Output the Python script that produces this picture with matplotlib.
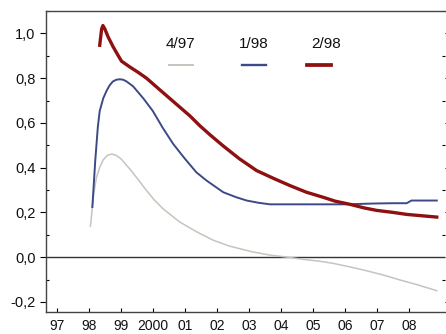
import numpy as np
import matplotlib
matplotlib.use("Agg")
import matplotlib.pyplot as plt
from matplotlib.ticker import FuncFormatter, MultipleLocator

plt.rcParams['font.family'] = ['Liberation Sans', 'DejaVu Sans']

# years since 1900 (97 = 1997)
x_497 = [98.05, 98.15, 98.24, 98.35, 98.45, 98.58, 98.71, 98.85, 99.0, 99.28, 99.55, 99.8, 100.05,
         100.32, 100.84, 101.37, 101.88, 102.4, 103.1, 103.66, 104.2, 104.7, 105.2, 105.64, 106.2,
         106.68, 107.2, 107.72, 108.3, 108.87]
y_497 = [0.138, 0.28, 0.357, 0.405, 0.435, 0.455, 0.461, 0.455, 0.44, 0.394, 0.345, 0.298, 0.255,
         0.216, 0.157, 0.113, 0.076, 0.049, 0.024, 0.009, 0.0, -0.01, -0.018, -0.028, -0.045,
         -0.061, -0.08, -0.102, -0.125, -0.15]

x_198 = [98.11, 98.2, 98.28, 98.34, 98.45, 98.55, 98.65, 98.75, 98.86, 98.97, 99.07, 99.17,
         99.38, 99.7, 100.0, 100.3, 100.63, 101.0, 101.36, 101.68, 102.2, 102.6, 102.93, 103.3,
         103.66, 104.5, 105.5, 106.0, 106.5, 107.0, 107.5, 107.93, 108.08, 108.5, 108.87]
y_198 = [0.224, 0.43, 0.58, 0.653, 0.71, 0.742, 0.768, 0.785, 0.793, 0.795, 0.793, 0.786,
         0.764, 0.71, 0.653, 0.58, 0.507, 0.44, 0.379, 0.342, 0.29, 0.268, 0.253, 0.243,
         0.236, 0.236, 0.236, 0.236, 0.238, 0.24, 0.241, 0.241, 0.253, 0.253, 0.253]

x_298 = [98.34, 98.4, 98.44, 98.5, 98.6, 98.76, 98.9, 99.02, 99.28, 99.55, 99.8, 100.2, 100.74,
         101.16, 101.47, 101.8, 102.19, 102.7, 103.24, 103.8, 104.28, 104.8, 105.31, 105.7,
         106.16, 106.6, 106.99, 107.5, 107.93, 108.4, 108.87]
y_298 = [0.947, 1.02, 1.035, 1.02, 0.985, 0.94, 0.905, 0.876, 0.85, 0.825, 0.80, 0.75, 0.683,
         0.631, 0.587, 0.545, 0.498, 0.44, 0.387, 0.35, 0.32, 0.29, 0.268, 0.25,
         0.236, 0.22, 0.209, 0.20, 0.191, 0.185, 0.179]

years = list(range(97, 109))
year_labels = ["97", "98", "99", "2000", "01", "02", "03", "04", "05", "06", "07", "08"]
legend_labels = ["4/97", "1/98", "2/98"]
colors = ["#c3c6bd", "#3d4a86", "#8e1010"]
widths = [1.1, 1.4, 2.4]

fig = plt.figure(figsize=(4.46, 3.34), dpi=100)
ax = fig.add_axes([0.103, 0.066, 0.895, 0.901])

series = [(x_497, y_497), (x_198, y_198), (x_298, y_298)]
for (xs, ys), c, w in zip(series, colors, widths):
    ax.plot(xs, ys, color=c, lw=w, solid_joinstyle="round")

ax.axhline(0, color="#333333", lw=1.0, zorder=1)

ax.set_xlim(96.66, 109.13)
ax.set_ylim(-0.245, 1.1)
ax.set_xticks(years)
ax.set_xticklabels(year_labels)
ax.yaxis.set_major_locator(MultipleLocator(0.2))
ax.yaxis.set_minor_locator(MultipleLocator(0.1))
ax.yaxis.set_major_formatter(FuncFormatter(lambda v, p: f"{v:.1f}".replace(".", ",")))

ax.tick_params(axis="x", direction="in", length=3, labelsize=10, pad=5, width=0.8, labelcolor="#111111")
ax.tick_params(axis="y", which="major", direction="out", length=4, labelsize=10.5, right=True,
               width=0.8, labelcolor="#111111")
ax.tick_params(axis="y", which="minor", direction="in", length=2, right=True, width=0.8)

for side in ["left", "bottom", "top"]:
    ax.spines[side].set_color("#444444")
    ax.spines[side].set_linewidth(1.0)
ax.spines["right"].set_visible(False)

# legend: label text above a short line sample
text_x = [0.338, 0.521, 0.702]
line_x = [0.338, 0.521, 0.684]
for tx, lx, lab, c, w in zip(text_x, line_x, legend_labels, colors, widths):
    ax.text(tx, 0.889, lab, transform=ax.transAxes, ha="center", va="center", fontsize=11,
            color="#111111")
    ax.plot([lx - 0.03, lx + 0.03], [0.82, 0.82], transform=ax.transAxes, color=c, lw=w + 0.3)

fig.savefig("out.png", dpi=100)
